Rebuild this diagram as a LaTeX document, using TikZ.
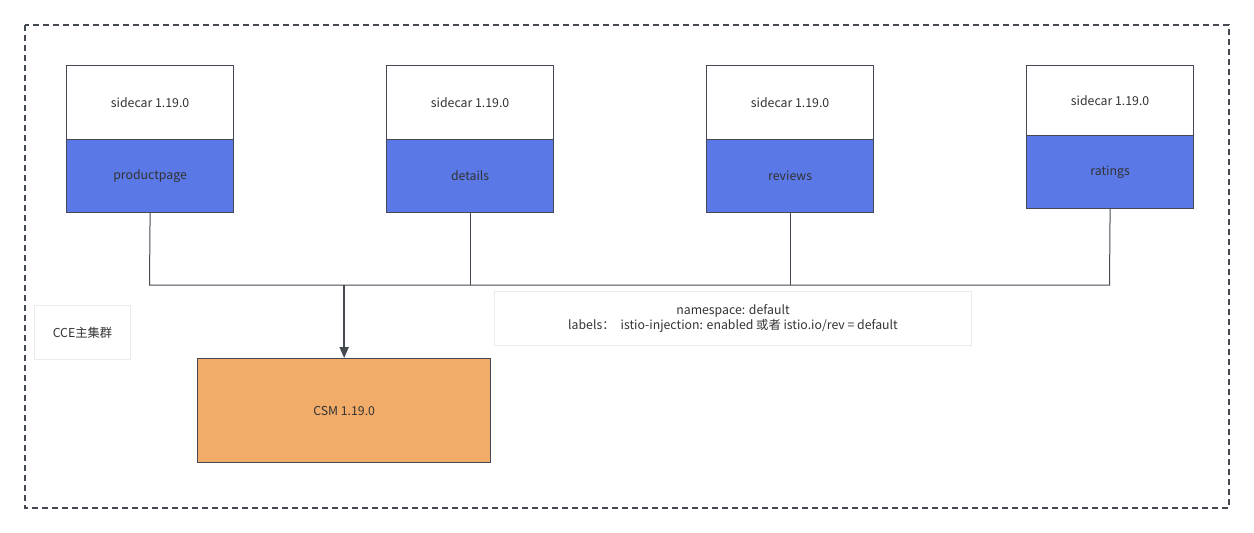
\documentclass[tikz,border=0pt]{standalone}
\usepackage{fontspec}
\setmainfont{Noto Sans CJK SC}
\usetikzlibrary{arrows.meta}
\definecolor{edge}{HTML}{454A52}
\definecolor{bluefill}{HTML}{5A78E6}
\definecolor{orangefill}{HTML}{F2AC6A}
\definecolor{txt}{HTML}{333333}
\definecolor{lightedge}{HTML}{EBEBEB}
\begin{document}
\begin{tikzpicture}[x=1pt,y=-1pt,
  every node/.style={font=\fontsize{12.3}{15.5}\selectfont, text=txt, inner sep=0pt},
  sidebox/.style={draw=edge, line width=1.2pt, fill=white, minimum width=167pt, anchor=north west},
  appbox/.style={draw=edge, line width=1.2pt, fill=bluefill, minimum width=167pt, minimum height=73pt, anchor=north west},
  wire/.style={draw=edge, line width=1pt},
  plainbox/.style={draw=lightedge, line width=1pt, fill=white, anchor=north west}]
\useasboundingbox (0,0) rectangle (1254,533);
\draw[draw=edge, line width=1.3pt, dash pattern=on 6pt off 4pt] (25,25) rectangle (1229,508);
% sidecar boxes
\node[sidebox, minimum height=74pt] (s1) at (66,65) {sidecar 1.19.0};
\node[appbox] (pp) at (66,139) {productpage};
\node[sidebox, minimum height=74pt] (s2) at (386,65) {sidecar 1.19.0};
\node[appbox] (dt) at (386,139) {details};
\node[sidebox, minimum height=74pt] (s3) at (706,65) {sidecar 1.19.0};
\node[appbox] (rv) at (706,139) {reviews};
\node[sidebox, minimum height=70pt] (s4) at (1026,65) {sidecar 1.19.0};
\node[appbox] (rt) at (1026,135) {ratings};
% CSM
\node[draw=edge, line width=1.3pt, fill=orangefill, minimum width=293pt, minimum height=104pt, anchor=north west] (csm) at (197,358) {CSM 1.19.0};
% other boxes
\node[plainbox, minimum width=96pt, minimum height=54pt] (cce) at (34,305) {CCE主集群};
\node[plainbox, minimum width=477pt, minimum height=54pt, align=center] (lbl) at (494,291) {namespace: default\\labels：\hspace{0.5em}istio-injection: enabled 或者 istio.io/rev = default};
% connectors
\coordinate (b1) at (149.5,285);
\coordinate (b4) at (1109.5,285);
\draw[wire] (pp.south) -- (b1) -- (b4) -- (rt.south);
\draw[wire] (dt.south) -- (dt.south |- b1);
\draw[wire] (rv.south) -- (rv.south |- b1);
\draw[draw=edge, line width=1.8pt, -{Triangle[length=11pt,width=9pt]}] (csm.north |- b1) -- (csm.north);
\end{tikzpicture}
\end{document}
